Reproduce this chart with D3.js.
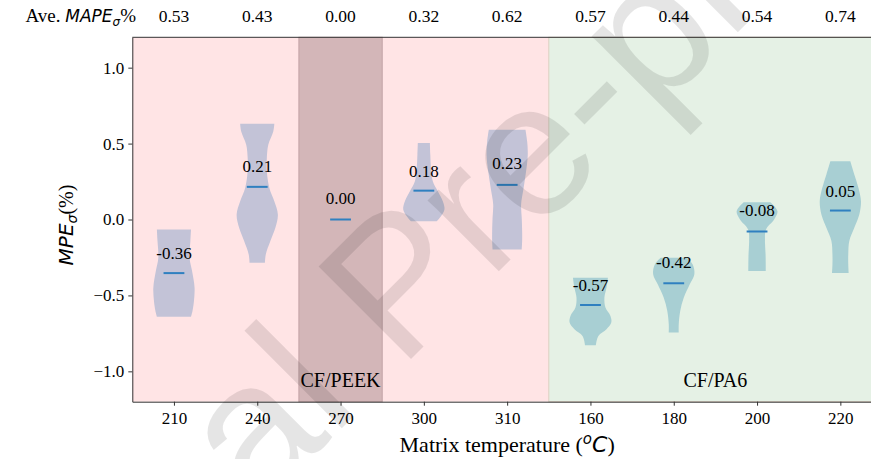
<!DOCTYPE html>
<html>
<head>
<meta charset="utf-8">
<script src="https://cdn.jsdelivr.net/npm/d3@7"></script>
<style>
  body { margin: 0; background: #fff; }
  svg { display: block; }
  text { white-space: pre; }
</style>
</head>
<body>
<div id="chart"></div>
<script>
// matrix temperatures, one violin per position
const categories = ["210", "240", "270", "300", "310", "160", "180", "200", "220"];
const materials = ["PEEK", "PEEK", "PEEK", "PEEK", "PEEK", "PA6", "PA6", "PA6", "PA6"];
const aveMape = ["0.53", "0.43", "0.00", "0.32", "0.62", "0.57", "0.44", "0.54", "0.74"];
const medians = [-0.353, 0.215, 0.0, 0.19, 0.228, -0.563, -0.42, -0.079, 0.059];
const labelValues = [-0.36, 0.21, 0.00, 0.18, 0.23, -0.57, -0.42, -0.08, 0.05];

// violin outlines: [MPE value, relative density]
const v210 = [[-0.066, 0.82], [-0.142, 0.79], [-0.252, 0.75], [-0.34, 0.87], [-0.449, 0.99], [-0.537, 0.96], [-0.602, 0.89], [-0.64, 0.82]];
const v240 = [[0.631, 0.82], [0.58, 0.77], [0.493, 0.53], [0.405, 0.46], [0.317, 0.46], [0.208, 0.58], [0.12, 0.82], [0.033, 0.99], [-0.055, 0.87], [-0.142, 0.63], [-0.23, 0.41], [-0.285, 0.37]];
const v270 = [];
const v300 = [[0.504, 0.29], [0.427, 0.31], [0.34, 0.34], [0.252, 0.43], [0.186, 0.67], [0.12, 0.91], [0.066, 0.99], [0.022, 0.82], [-0.011, 0.62]];
const v310 = [[0.591, 0.88], [0.515, 0.96], [0.427, 0.99], [0.317, 0.91], [0.208, 0.79], [0.099, 0.67], [0.011, 0.70], [-0.077, 0.72], [-0.142, 0.72], [-0.197, 0.70]];
const v160 = [[-0.383, 0.84], [-0.449, 0.77], [-0.515, 0.67], [-0.58, 0.72], [-0.635, 0.96], [-0.679, 1.0], [-0.723, 0.77], [-0.767, 0.38], [-0.828, 0.26]];
const v180 = [[-0.252, 0.63], [-0.296, 0.91], [-0.361, 0.99], [-0.427, 0.77], [-0.515, 0.48], [-0.602, 0.31], [-0.69, 0.24], [-0.745, 0.24]];
const v200 = [[0.114, 0.64], [0.055, 0.98], [0.0, 0.82], [-0.066, 0.43], [-0.142, 0.38], [-0.23, 0.41], [-0.34, 0.42]];
const v220 = [[0.383, 0.48], [0.296, 0.67], [0.208, 0.87], [0.12, 0.99], [0.033, 0.91], [-0.055, 0.67], [-0.142, 0.43], [-0.23, 0.38], [-0.296, 0.38], [-0.353, 0.40]];
const violins = [v210, v240, v270, v300, v310, v160, v180, v200, v220];

const yTicks = [-1.0, -0.5, 0.0, 0.5, 1.0];

const w = 871, h = 459;
const padL = 132.3, padR = 882, padT = 37.3, padB = 401.7;
const serif = "'Liberation Serif', 'Times New Roman', serif";
const sans = "'DejaVu Sans', sans-serif";

const x = d3.scaleLinear().domain([-0.5, 8.5]).range([padL, padR]);
const y = d3.scaleLinear().domain([-1.2, 1.2]).range([padB, padT]);
const halfW = (d) => x(0.25 * d) - x(0);

const svg = d3.select("#chart").append("svg")
    .attr("width", w)
    .attr("height", h);

// background bands
svg.append("rect")
    .attr("x", x(-0.5)).attr("y", padT)
    .attr("width", x(4.5) - x(-0.5)).attr("height", padB - padT)
    .attr("fill", "#ffe4e5");
svg.append("rect")
    .attr("x", x(4.5)).attr("y", padT)
    .attr("width", x(8.5) - x(4.5)).attr("height", padB - padT)
    .attr("fill", "#e5f1e5")
    .attr("stroke", "#dccfc0").attr("stroke-width", 1);
svg.append("rect")
    .attr("x", x(1.5)).attr("y", padT)
    .attr("width", x(2.5) - x(1.5)).attr("height", padB - padT)
    .attr("fill", "#d3b6b8")
    .attr("stroke", "#c2a3a6").attr("stroke-width", 1);

// violins
const area = d3.area()
    .curve(d3.curveCatmullRom)
    .y((d) => y(d[0]));

violins.forEach((prof, i) => {
  if (!prof.length) return;
  svg.append("path")
      .datum(prof)
      .attr("d", area
        .x0((d) => x(i) - halfW(d[1]))
        .x1((d) => x(i) + halfW(d[1])))
      .attr("fill", materials[i] == "PEEK" ? "#c3c3d7" : "#a8cfd3");
});

// medians
svg.selectAll(".median")
    .data(medians)
    .enter()
    .append("line")
    .attr("class", "median")
    .attr("x1", (d, i) => x(i - 0.125))
    .attr("x2", (d, i) => x(i + 0.125))
    .attr("y1", (d) => y(d))
    .attr("y2", (d) => y(d))
    .attr("stroke", "#2f80c0")
    .attr("stroke-width", 2);

svg.selectAll(".vlabel")
    .data(labelValues)
    .enter()
    .append("text")
    .attr("class", "vlabel")
    .attr("x", (d, i) => x(i))
    .attr("y", (d) => y(d + 0.1))
    .attr("text-anchor", "middle")
    .attr("font-family", serif)
    .attr("font-size", 17)
    .text((d, i) => (d < 0 ? "-" : "") + Math.abs(d).toFixed(2));

// group names
svg.append("text")
    .attr("x", x(2)).attr("y", y(-1.1))
    .attr("text-anchor", "middle")
    .attr("font-family", serif).attr("font-size", 20)
    .text("CF/PEEK");
svg.append("text")
    .attr("x", x(6.5)).attr("y", y(-1.1))
    .attr("text-anchor", "middle")
    .attr("font-family", serif).attr("font-size", 20)
    .text("CF/PA6");

// axes
const yAxis = d3.axisLeft(y).tickValues(yTicks).tickFormat(d3.format(".1f")).tickSize(4).tickSizeOuter(0).tickPadding(4);
const gy = svg.append("g").attr("transform", "translate(" + padL + ",0)").call(yAxis);
const xAxis = d3.axisBottom(x).tickValues(d3.range(categories.length)).tickFormat((i) => categories[i]).tickSize(4).tickSizeOuter(0).tickPadding(6);
const gx = svg.append("g").attr("transform", "translate(0," + padB + ")").call(xAxis);
[gx, gy].forEach((g) => {
  g.selectAll("path, line").attr("stroke", "#333");
  g.selectAll("text").attr("font-family", serif).attr("font-size", 17).attr("fill", "#000");
});
svg.append("line")
    .attr("x1", padL).attr("x2", padR)
    .attr("y1", padT).attr("y2", padT)
    .attr("stroke", "#333");

// top row of averages
svg.selectAll(".ave")
    .data(aveMape)
    .enter()
    .append("text")
    .attr("class", "ave")
    .attr("x", (d, i) => x(i))
    .attr("y", 21.7)
    .attr("text-anchor", "middle")
    .attr("font-family", serif)
    .attr("font-size", 17.5)
    .text((d) => d);

const ave = svg.append("text")
    .attr("x", 136).attr("y", 21.7)
    .attr("text-anchor", "end")
    .attr("font-size", 19);
ave.append("tspan").attr("font-family", serif).text("Ave. ");
ave.append("tspan").attr("font-family", sans).attr("font-style", "italic").attr("font-size", 17).text("MAPE");
ave.append("tspan").attr("font-family", sans).attr("font-style", "italic").attr("font-size", 12).attr("dy", 4).text("σ");
ave.append("tspan").attr("font-family", serif).attr("dy", -4).text("%");

// axis titles
const yl = svg.append("text")
    .attr("transform", "translate(73,225) rotate(-90)")
    .attr("text-anchor", "middle")
    .attr("font-size", 20);
yl.append("tspan").attr("font-family", sans).attr("font-style", "italic").text("MPE");
yl.append("tspan").attr("font-family", sans).attr("font-style", "italic").attr("font-size", 14).attr("dy", 4).text("σ");
yl.append("tspan").attr("font-family", serif).attr("dy", -4).text("(%)");

const xl = svg.append("text")
    .attr("x", (padL + padR) / 2).attr("y", 451.5)
    .attr("text-anchor", "middle")
    .attr("font-family", serif)
    .attr("font-size", 22);
xl.append("tspan").text("Matrix temperature (");
xl.append("tspan").attr("font-family", sans).attr("font-style", "italic").attr("font-size", 15).attr("dy", -8).text("o");
xl.append("tspan").attr("font-family", sans).attr("font-style", "italic").attr("dy", 8).text("C");
xl.append("tspan").text(")");

// watermark
const wm = svg.append("g")
    .attr("transform", "translate(400,370) rotate(-45)")
    .attr("font-family", "'Liberation Sans', Arial, sans-serif")
    .attr("font-size", 190)
    .attr("fill", "#000")
    .attr("fill-opacity", 0.1);
wm.append("text").attr("text-anchor", "end").text("Journal\u00a0");
wm.append("text").attr("text-anchor", "start").text("Pre-proof");
</script>
</body>
</html>
